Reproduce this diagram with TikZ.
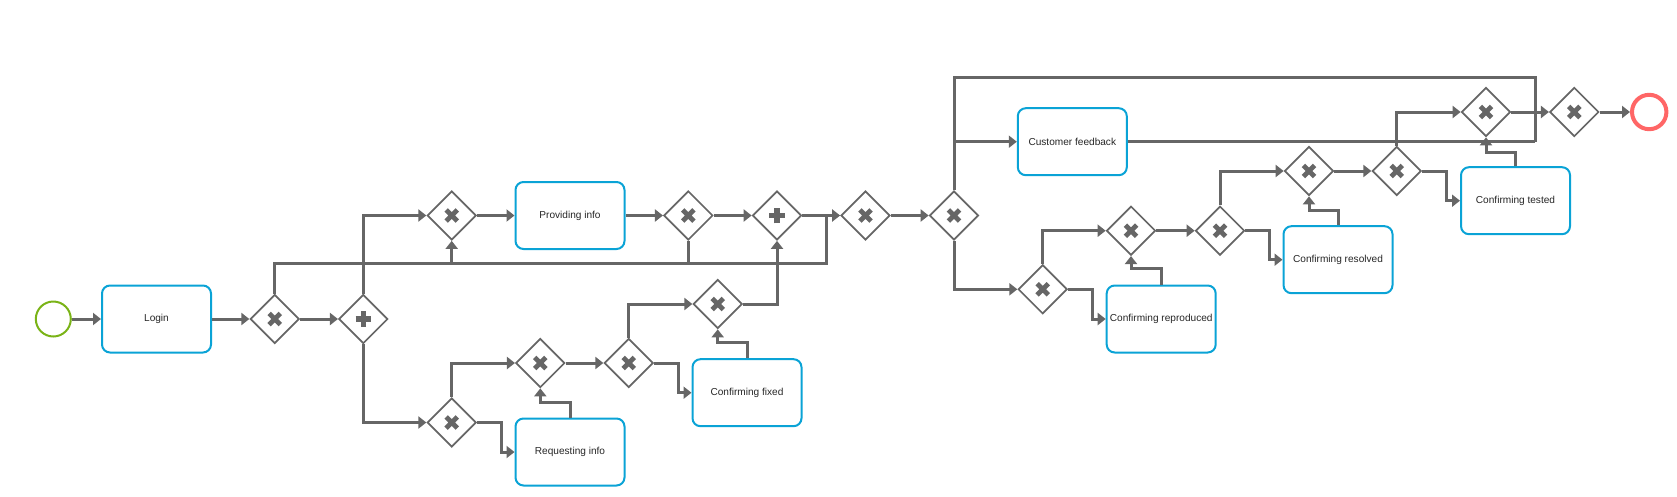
\documentclass[tikz,border=0pt]{standalone}
\usepackage{fontspec}
\setmainfont{Liberation Sans}
\usetikzlibrary{shapes.geometric,arrows.meta}
\definecolor{lineg}{HTML}{666666}
\definecolor{taskblue}{HTML}{0AA3D6}
\definecolor{startg}{HTML}{7AB317}
\definecolor{endr}{HTML}{FF6666}
\tikzset{
  flow/.style={line width=3pt, draw=lineg, -{Triangle[length=8pt,width=12pt]}},
  seg/.style={line width=3pt, draw=lineg},
  gw/.style={diamond, draw=lineg, line width=1.7pt, minimum width=49pt, minimum height=49pt, inner sep=0pt, aspect=1, fill=white},
  xgw/.style={gw, path picture={\draw[line width=4.8pt, draw=lineg]
      ([shift={(-5.6pt,-5.6pt)}]path picture bounding box.center) -- ++(11.2pt,11.2pt)
      ([shift={(-5.6pt,5.6pt)}]path picture bounding box.center) -- ++(11.2pt,-11.2pt);}},
  pgw/.style={gw, path picture={\draw[line width=5.4pt, draw=lineg]
      ([shift={(-7.8pt,0pt)}]path picture bounding box.center) -- ++(15.6pt,0pt)
      ([shift={(0pt,-7.8pt)}]path picture bounding box.center) -- ++(0pt,15.6pt);}},
  task/.style={rectangle, rounded corners=8pt, draw=taskblue, line width=2pt, minimum width=109pt, minimum height=67pt, inner sep=0pt, fill=white, font=\fontsize{10.1}{12}\selectfont, text=black!85},
  startev/.style={circle, draw=startg, line width=2pt, minimum size=35pt, inner sep=0pt},
  endev/.style={circle, draw=endr, line width=4pt, minimum size=34.4pt, inner sep=0pt},
}
\begin{document}
\begin{tikzpicture}[x=1pt, y=-1pt]
\useasboundingbox (0,0) rectangle (1677,496);
% events and tasks
\node[startev] (start) at (53.3,319) {};
\node[task] (login) at (156.5,319) {Login};
\node[task] (prov) at (570,215.5) {Providing info};
\node[task] (req) at (570,452) {Requesting info};
\node[task] (fixed) at (747,392.7) {Confirming fixed};
\node[task] (cf) at (1072.3,141.7) {Customer feedback};
\node[task] (repro) at (1161.2,319) {Confirming reproduced};
\node[task] (resolved) at (1338,259.7) {Confirming resolved};
\node[task] (tested) at (1515.5,200.7) {Confirming tested};
\node[endev] (end) at (1649.2,112) {};
% gateways
\node[xgw] (g1) at (274.7,319) {};
\node[pgw] (g2) at (363.3,319) {};
\node[xgw] (g3) at (451.7,215.5) {};
\node[xgw] (g4) at (688.3,215.5) {};
\node[pgw] (g5) at (777,215.5) {};
\node[xgw] (g6) at (865.5,215.5) {};
\node[xgw] (g7) at (451.7,422.5) {};
\node[xgw] (g8) at (540.3,363) {};
\node[xgw] (g9) at (628.7,363) {};
\node[xgw] (g10) at (717.7,304) {};
\node[xgw] (g11) at (954,215.5) {};
\node[xgw] (g12) at (1042.7,289.3) {};
\node[xgw] (g13) at (1131,230.7) {};
\node[xgw] (g14) at (1220,230.7) {};
\node[xgw] (g15) at (1309,171) {};
\node[xgw] (g16) at (1396.7,171) {};
\node[xgw] (g17) at (1486,112) {};
\node[xgw] (g18) at (1574.3,112) {};
% junction coordinates
\coordinate (loopy) at (0,263.7);
\coordinate (j1) at (826.7,215.5);
\coordinate (topy) at (0,77.3);
\coordinate (j2) at (1535.3,141.7);
% main flow
\draw[flow] (start) -- (login);
\draw[flow] (login) -- (g1);
\draw[flow] (g1) -- (g2);
\draw[seg] (g1.north) |- (j1 |- loopy) -- (j1);
\draw[flow] (g3.south |- loopy) -- (g3.south);
\draw[seg] (g4.south) -- (g4.south |- loopy);
\draw[flow] (g2.north) |- (g3.west);
\draw[flow] (g2.south) |- (g7.west);
\draw[flow] (g3) -- (prov);
\draw[flow] (prov) -- (g4);
\draw[flow] (g4) -- (g5);
\draw[flow] (g5) -- (g6);
\draw[flow] (g6) -- (g11);
% lower branch
\draw[flow] (g7.north) |- (g8.west);
\draw[flow] (g7.east) -- ++(24.5,0) |- (req.west);
\draw[flow] (req.north) -- ++(0,-15) -| (g8.south);
\draw[flow] (g8) -- (g9);
\draw[flow] (g9.north) |- (g10.west);
\draw[flow] (g9.east) -- ++(24.5,0) |- (fixed.west);
\draw[flow] (fixed.north) -- ++(0,-16) -| (g10.south);
\draw[flow] (g10.east) -| (g5.south);
% right part
\draw[seg] (g11.north) |- (j2 |- topy) -- (j2);
\draw[flow] (g11.north |- cf.west) -- (cf.west);
\draw[seg] (cf.east) -- (j2);
\draw[flow] (g11.south) |- (g12.west);
\draw[flow] (g12.north) |- (g13.west);
\draw[flow] (g12.east) -- ++(24.5,0) |- (repro.west);
\draw[flow] (repro.north) -- ++(0,-15.7) -| (g13.south);
\draw[flow] (g13) -- (g14);
\draw[flow] (g14.north) |- (g15.west);
\draw[flow] (g14.east) -- ++(24.5,0) |- (resolved.west);
\draw[flow] (resolved.north) -- ++(0,-14.3) -| (g15.south);
\draw[flow] (g15) -- (g16);
\draw[flow] (g16.north) |- (g17.west);
\draw[flow] (g16.east) -- ++(24.5,0) |- (tested.west);
\draw[flow] (tested.north) -- ++(0,-14) -| (g17.south);
\draw[flow] (g17) -- (g18);
\draw[flow] (g18) -- (end);
\end{tikzpicture}
\end{document}
